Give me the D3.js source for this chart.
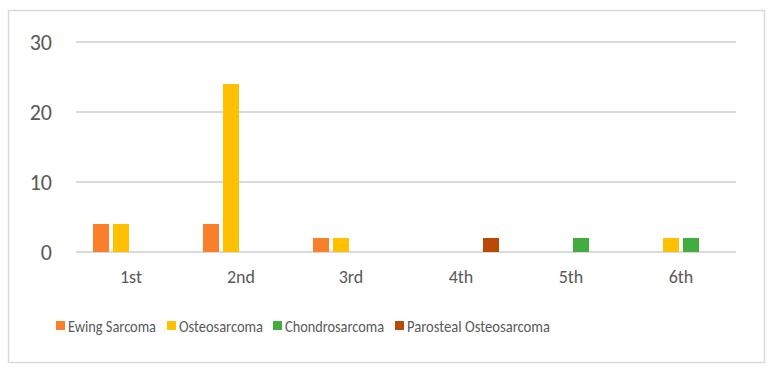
<!DOCTYPE html>
<html>
<head>
<meta charset="utf-8">
<script src="https://cdn.jsdelivr.net/npm/d3@7"></script>
<style>
  body { margin: 0; background: #fff; }
  svg { display: block; font-family: Carlito, Lato, "Open Sans", sans-serif; }
</style>
</head>
<body>
<svg id="chart" width="779" height="375"></svg>
<script>
// categories and series
const categories = ["1st", "2nd", "3rd", "4th", "5th", "6th"];
const seriesNames = ["Ewing Sarcoma", "Osteosarcoma", "Chondrosarcoma", "Parosteal Osteosarcoma"];
const ewing = [4, 4, 2, 0, 0, 0];
const osteo = [4, 24, 2, 0, 0, 2];
const chondro = [0, 0, 0, 0, 2, 2];
const parosteal = [0, 0, 0, 2, 0, 0];
const yTicks = [0, 10, 20, 30];
const colors = ["#FA7F2A", "#FFC000", "#42AD3E", "#B84A06"];

const values = [ewing, osteo, chondro, parosteal];
const data = [];
categories.forEach((c, i) => {
    seriesNames.forEach((s, j) => data.push({cat: c, series: s, value: values[j][i]}));
});

let svg = d3.select("#chart");

// outer frame
svg.append("rect")
    .attr("x", 8.5).attr("y", 10.5)
    .attr("width", 756).attr("height", 352)
    .attr("fill", "white")
    .attr("stroke", "#D9D9D9")
    .attr("stroke-width", 1.5);

let plot = {left: 76, right: 736, top: 42, bottom: 252};

let xScale = d3.scaleBand()
    .domain(categories)
    .range([plot.left, plot.right])
    .paddingInner(0)
    .paddingOuter(0);

// bars inside a category: 16px wide, 4px apart
let inner = d3.scaleBand()
    .domain(seriesNames)
    .range([15, 95])
    .paddingInner(0.2)
    .paddingOuter(0.1);

let yScale = d3.scaleLinear()
    .domain([0, 30])
    .range([plot.bottom, plot.top]);

// gridlines
svg.append("g").attr("id", "grid")
    .selectAll("line")
    .data(yTicks)
    .enter()
    .append("line")
        .attr("x1", plot.left).attr("x2", plot.right)
        .attr("y1", d => yScale(d)).attr("y2", d => yScale(d))
        .attr("stroke", "#D9D9D9")
        .attr("stroke-width", 2);

// y axis labels
let yaxis = d3.axisLeft(yScale).tickValues(yTicks).tickSize(0).tickPadding(0);
svg.append("g").attr("id", "y-axis")
    .attr("transform", "translate(52,0)")
    .call(yaxis)
    .call(g => g.select(".domain").remove())
    .call(g => g.attr("font-family", null))
    .selectAll("text")
        .attr("font-size", 22)
        .attr("fill", "#595959")
        .attr("dy", "0.36em");

// x axis labels
let xaxis = d3.axisBottom(xScale).tickSize(0).tickPadding(0);
svg.append("g").attr("id", "x-axis")
    .attr("transform", "translate(0,270)")
    .call(xaxis)
    .call(g => g.select(".domain").remove())
    .call(g => g.attr("font-family", null))
    .selectAll("text")
        .attr("font-size", 18)
        .attr("fill", "#595959")
        .attr("dy", "0.71em");

// bars
let colorScale = d3.scaleOrdinal().domain(seriesNames).range(colors);
svg.append("g").attr("id", "bars")
    .selectAll("rect")
    .data(data.filter(d => d.value > 0))
    .enter()
    .append("rect")
        .attr("x", d => xScale(d.cat) + inner(d.series))
        .attr("y", d => yScale(d.value))
        .attr("width", inner.bandwidth())
        .attr("height", d => plot.bottom - yScale(d.value))
        .attr("fill", d => colorScale(d.series));

// legend
let legendX = [56, 167, 273, 395];
let legendW = [88, 84, 99, 143];
let legend = svg.append("g").attr("id", "legend")
    .selectAll("g")
    .data(seriesNames)
    .enter()
    .append("g")
        .attr("transform", (d, i) => "translate(" + legendX[i] + ",321)");

legend.append("rect")
    .attr("width", 9).attr("height", 9)
    .attr("fill", d => colorScale(d));

legend.append("text")
    .attr("x", 12)
    .attr("y", 11)
    .attr("font-size", 17)
    .attr("fill", "#595959")
    .attr("textLength", (d, i) => legendW[i])
    .attr("lengthAdjust", "spacingAndGlyphs")
    .text(d => d);
</script>
</body>
</html>
